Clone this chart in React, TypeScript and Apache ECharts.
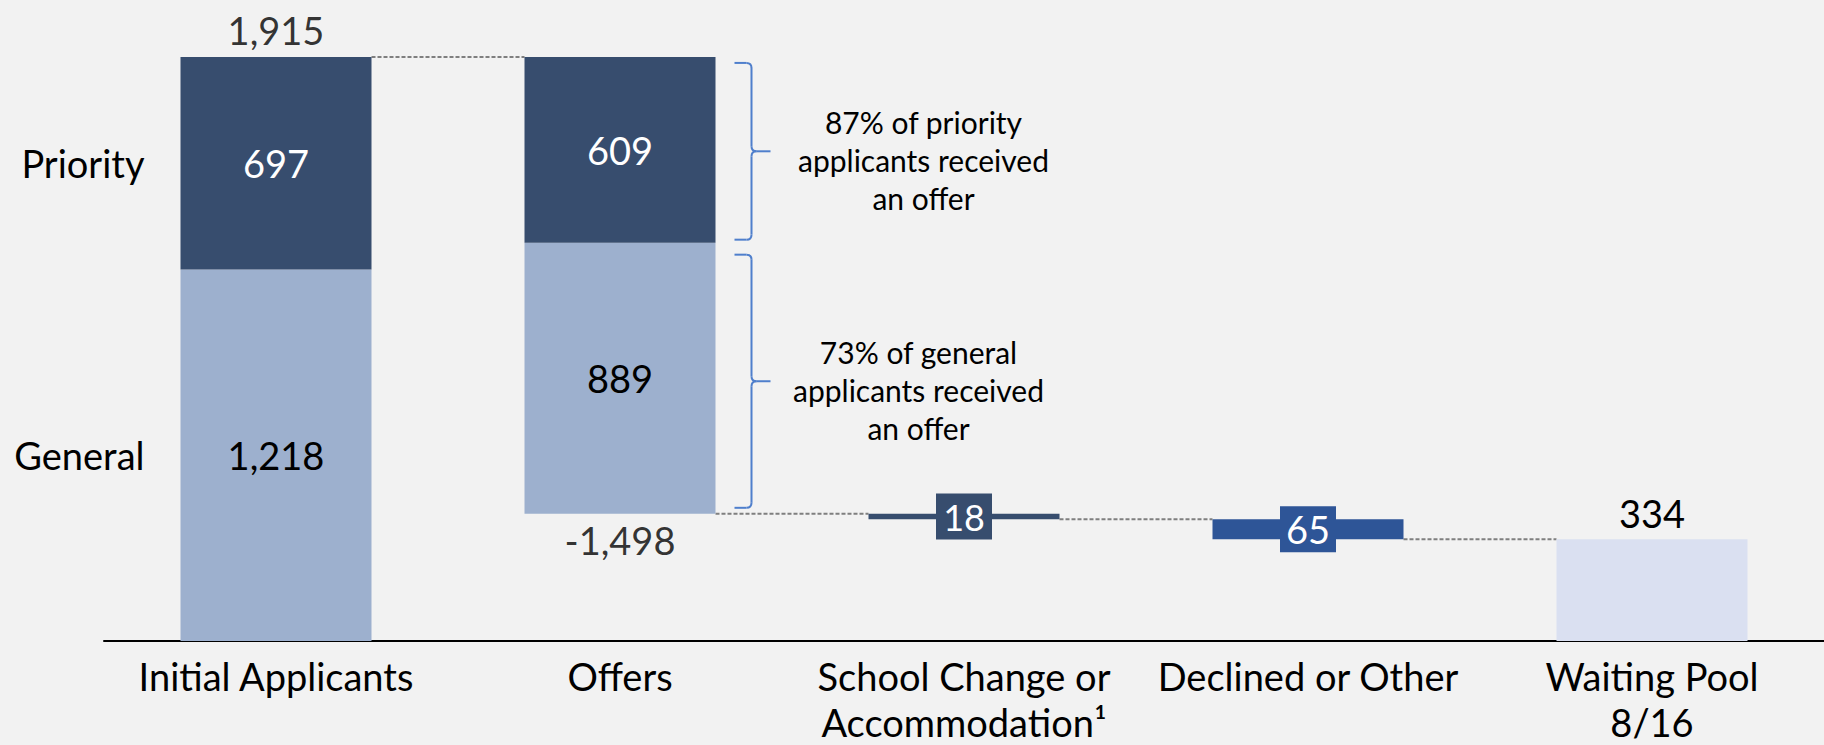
import React, { useEffect, useRef } from "react";
import * as echarts from "echarts";

const categories = [
  "Initial Applicants",
  "Offers",
  "School Change or\nAccommodation¹",
  "Declined or Other",
  "Waiting Pool\n8/16",
];
const segmentNames = ["Priority", "General"];
const priorityValues = [697, 609];
const generalValues = [1218, 889];
const schoolChange = 18;
const declined = 65;
const waitingPool = 334;
const annotations = [
  "87% of priority\napplicants received\nan offer",
  "73% of general\napplicants received\nan offer",
];

const FONT = 'Lato, "Noto Sans", sans-serif';
const FS = 38;
const DARK = "#374d6e";
const LIGHT = "#9db0ce";
const DECL = "#2e5597";
const WAIT = "#dae0f1";
const BRACE = "#4f7fcc";
const BAR_W = 191;

export default function App() {
  const ref = useRef<HTMLDivElement>(null);

  useEffect(() => {
    if (!ref.current) return;
    const chart = echarts.init(ref.current, null, { renderer: "svg" });

    const initialTotal = priorityValues[0] + generalValues[0];
    const offersTotal = priorityValues[1] + generalValues[1];
    const afterOffers = initialTotal - offersTotal;
    const afterChange = afterOffers - schoolChange;
    const afterDeclined = afterChange - declined;

    const base = [0, afterOffers, afterChange, afterDeclined, 0];
    const general = [generalValues[0], generalValues[1], "-", "-", "-"];
    const priority = [priorityValues[0], priorityValues[1], "-", "-", "-"];
    const change = ["-", "-", schoolChange, "-", "-"];
    const decl = ["-", "-", "-", declined, "-"];
    const wait = ["-", "-", "-", "-", waitingPool];
    const connectors = [
      [0, initialTotal],
      [1, afterOffers],
      [2, afterChange],
      [3, afterDeclined],
    ];
    const fmt = (v: number) => v.toLocaleString("en-US");

    const boxLabel = (bg: string, size: number) => ({
      show: true,
      position: "inside",
      color: "#fff",
      fontFamily: FONT,
      fontSize: size,
      backgroundColor: bg,
      width: 44,
      lineHeight: 46,
      height: 46,
      padding: [0, 6],
      align: "center",
    });

    const option: any = {
      animation: false,
      backgroundColor: "#f2f2f2",
      grid: { left: 104, width: 1727, top: 31, height: 613 },
      xAxis: {
        type: "category",
        data: categories,
        axisLine: { lineStyle: { color: "#000", width: 2 } },
        axisTick: { show: false },
        axisLabel: {
          interval: 0,
          fontFamily: FONT,
          fontSize: FS,
          color: "#000",
          lineHeight: 46,
          margin: 12,
        },
      },
      yAxis: {
        type: "value",
        min: 0,
        max: 2000,
        show: false,
        splitLine: { show: false },
      },
      series: [
        {
          name: "base",
          type: "bar",
          stack: "w",
          barWidth: BAR_W,
          silent: true,
          itemStyle: { color: "rgba(0,0,0,0)" },
          data: base,
        },
        {
          name: segmentNames[1],
          type: "bar",
          stack: "w",
          barWidth: BAR_W,
          itemStyle: { color: LIGHT },
          label: {
            show: true,
            position: "inside",
            color: "#000",
            fontFamily: FONT,
            fontSize: FS,
            formatter: (p: any) => fmt(p.value),
          },
          data: general,
        },
        {
          name: segmentNames[0],
          type: "bar",
          stack: "w",
          barWidth: BAR_W,
          itemStyle: { color: DARK },
          label: {
            show: true,
            position: "inside",
            color: "#fff",
            fontFamily: FONT,
            fontSize: FS,
            formatter: (p: any) => fmt(p.value),
          },
          data: priority,
        },
        {
          name: "School Change",
          type: "bar",
          stack: "w",
          barWidth: BAR_W,
          itemStyle: { color: DARK },
          label: boxLabel(DARK, 36),
          data: change,
        },
        {
          name: "Declined",
          type: "bar",
          stack: "w",
          barWidth: BAR_W,
          itemStyle: { color: DECL },
          label: boxLabel(DECL, 38),
          data: decl,
        },
        {
          name: "Waiting Pool",
          type: "bar",
          stack: "w",
          barWidth: BAR_W,
          itemStyle: { color: WAIT },
          label: {
            show: true,
            position: "top",
            distance: 6,
            color: "#000",
            fontFamily: FONT,
            fontSize: FS,
            lineHeight: 40,
          },
          data: wait,
        },
        {
          name: "totals",
          type: "scatter",
          symbolSize: 1,
          silent: true,
          itemStyle: { color: "rgba(0,0,0,0)" },
          label: {
            show: true,
            color: "#000",
            fontFamily: FONT,
            fontSize: FS,
            lineHeight: 40,
            distance: 6,
            formatter: (p: any) => p.data.text,
          },
          data: [
            { value: [0, initialTotal], text: fmt(initialTotal), label: { position: "top" } },
            { value: [1, afterOffers], text: fmt(-offersTotal), label: { position: "bottom" } },
          ],
        },
        {
          name: "connectors",
          type: "custom",
          silent: true,
          z: 1,
          data: connectors,
          renderItem: (params: any, api: any) => {
            const idx = api.value(0);
            const v = api.value(1);
            const p1 = api.coord([idx, v]);
            const p2 = api.coord([idx + 1, v]);
            return {
              type: "line",
              shape: {
                x1: p1[0] + BAR_W / 2,
                y1: p1[1],
                x2: p2[0] - BAR_W / 2,
                y2: p2[1],
              },
              style: { stroke: "#7f7f7f", lineWidth: 2, lineDash: [4, 2] },
            };
          },
        },
      ],
    };
    chart.setOption(option);

    const px = (c: number, v: number) =>
      chart.convertToPixel({ xAxisIndex: 0, yAxisIndex: 0 }, [c, v]) as number[];

    const g: any[] = [];
    const st = { stroke: BRACE, lineWidth: 2, fill: "none" };
    const brace = (x0: number, xv: number, xt: number, top: number, bottom: number, r: number) => {
      const tip = (top + bottom) / 2;
      g.push(
        { type: "line", shape: { x1: x0, y1: top, x2: xv - r, y2: top }, style: st },
        { type: "bezierCurve", shape: { x1: xv - r, y1: top, cpx1: xv, cpy1: top, x2: xv, y2: top + r }, style: st },
        { type: "line", shape: { x1: xv, y1: top + r, x2: xv, y2: tip - r }, style: st },
        { type: "bezierCurve", shape: { x1: xv, y1: tip - r, cpx1: xv, cpy1: tip, x2: xv + r, y2: tip }, style: st },
        { type: "line", shape: { x1: xv + r, y1: tip, x2: xt, y2: tip }, style: st },
        { type: "bezierCurve", shape: { x1: xv + r, y1: tip, cpx1: xv, cpy1: tip, x2: xv, y2: tip + r }, style: st },
        { type: "line", shape: { x1: xv, y1: tip + r, x2: xv, y2: bottom - r }, style: st },
        { type: "bezierCurve", shape: { x1: xv, y1: bottom - r, cpx1: xv, cpy1: bottom, x2: xv - r, y2: bottom }, style: st },
        { type: "line", shape: { x1: xv - r, y1: bottom, x2: x0, y2: bottom }, style: st }
      );
      return tip;
    };

    const offTop = px(1, initialTotal);
    const offMid = px(1, afterOffers + generalValues[1]);
    const offBot = px(1, afterOffers);
    const edge = offTop[0] + BAR_W / 2;
    const tip1 = brace(edge + 19, edge + 36, edge + 55, offTop[1] + 6, offMid[1] - 3, 5);
    const tip2 = brace(edge + 19, edge + 36, edge + 55, offMid[1] + 12, offBot[1] - 6, 5);
    const annText = (t: string, x: number, y: number) => ({
      type: "text",
      x,
      y,
      style: {
        text: t,
        font: `30px ${FONT}`,
        fill: "#000",
        textAlign: "center",
        textVerticalAlign: "middle",
        align: "center",
        verticalAlign: "middle",
        lineHeight: 38,
      },
    });
    g.push(annText(annotations[0], edge + 208, tip1 + 9));
    g.push(annText(annotations[1], edge + 203, tip2 + 9));

    const iniPriMid = px(0, generalValues[0] + priorityValues[0] / 2);
    const iniGenMid = px(0, generalValues[0] / 2);
    const leftX = iniPriMid[0] - BAR_W / 2 - 36;
    [
      [segmentNames[0], iniPriMid[1]],
      [segmentNames[1], iniGenMid[1]],
    ].forEach(([name, y]) => {
      g.push({
        type: "text",
        x: leftX,
        y: y as number,
        style: {
          text: name as string,
          font: `${FS}px ${FONT}`,
          fill: "#000",
          textAlign: "right",
          textVerticalAlign: "middle",
          align: "right",
          verticalAlign: "middle",
        },
      });
    });

    chart.setOption({ graphic: g });

    return () => chart.dispose();
  }, []);

  return (
    <div
      ref={ref}
      style={{
        position: "fixed",
        left: 0,
        top: 0,
        width: 1824,
        height: 745,
        background: "#f2f2f2",
      }}
    />
  );
}
